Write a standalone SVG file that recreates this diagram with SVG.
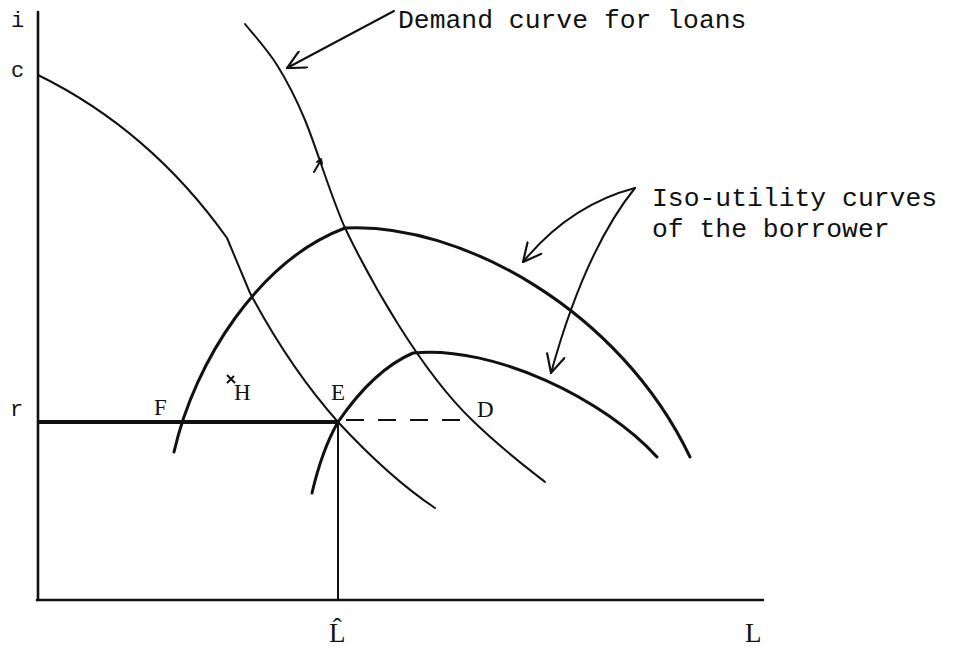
<svg xmlns="http://www.w3.org/2000/svg" width="954" height="648" viewBox="0 0 954 648">
<style>
.bg{fill:#fff}
.ax{stroke:#111;stroke-width:2.6;fill:none;stroke-linecap:round}
.cv{stroke:#111;stroke-width:2;fill:none;stroke-linecap:round;stroke-linejoin:round}
.thick{stroke:#111;stroke-width:3;fill:none;stroke-linecap:round;stroke-linejoin:round}
.conn{stroke:#111;stroke-width:2;fill:none;stroke-linecap:round}
.mono{font-family:"Liberation Mono","DejaVu Sans Mono",monospace;fill:#111}
.ser{font-family:"Liberation Serif","DejaVu Serif",serif;fill:#111}
</style>
<defs>
<marker id="vhl" viewBox="0 0 20 20" refX="19" refY="10" markerWidth="20" markerHeight="20" markerUnits="userSpaceOnUse" orient="auto">
<path d="M1,1 L19,10 L1,19" fill="none" stroke="#111" stroke-width="2.2" stroke-linecap="round"/>
</marker>
</defs>
<rect class="bg" width="954" height="648"/>

<g id="axes">
<line class="ax" x1="38" y1="12" x2="38" y2="600"/>
<line class="ax" x1="37" y1="600" x2="763" y2="600"/>
<text class="mono" x="11" y="27" font-size="22">i</text>
<text class="mono" x="11" y="77" font-size="22">c</text>
<text class="mono" x="10" y="416" font-size="22">r</text>
<text class="ser" x="329" y="642" font-size="27">L̂</text>
<text class="ser" x="745" y="642" font-size="27">L</text>
</g>

<g id="budget-curve">
<path class="cv" d="M38,75 Q150,130 227,238 L250,293 Q290,368 338,422 Q390,478 435,508"/>
</g>

<g id="demand-curve">
<path class="cv" d="M245,24 C250.3,30.8 267,49 277,65 C287,81 293.7,92.8 305,120 C316.3,147.2 330.3,194.7 345,228 C370,280 420,370 472,420 C505,452 530,470 545,482"/>
<path class="cv" d="M314,172 L321,160" stroke-width="1.5"/>
<path class="cv" d="M317,162 L321,159 L322,164" stroke-width="1.3"/>
</g>

<g id="iso-utility-upper">
<path class="thick" d="M174,452 C195,360 260,260 345,228 C460,222 620,310 690,457"/>
</g>

<g id="iso-utility-lower">
<path class="thick" d="M312,493 Q322,450 338,422 C360,390 385,365 413,353 C495,345 605,400 657,457"/>
</g>

<g id="r-line">
<line x1="38" y1="422" x2="338" y2="422" stroke="#111" stroke-width="4"/>
<line x1="346" y1="420" x2="472" y2="420" stroke="#111" stroke-width="2" stroke-dasharray="18,14"/>
<line x1="338" y1="422" x2="338" y2="600" stroke="#111" stroke-width="2"/>
</g>

<g id="points">
<text class="ser" x="154" y="415" font-size="23">F</text>
<path d="M227,375 L235,383 M227,383 L234,376" stroke="#111" stroke-width="2" fill="none"/>
<text class="ser" x="234" y="400" font-size="23">H</text>
<text class="ser" x="331" y="400" font-size="23">E</text>
<text class="ser" x="477" y="417" font-size="23">D</text>
</g>

<g id="labels">
<text class="mono" x="398" y="28" font-size="26.4">Demand curve for loans</text>
<text class="mono" x="652" y="206" font-size="26.4">Iso-utility curves</text>
<text class="mono" x="652" y="237" font-size="26.4">of the borrower</text>
</g>

<g id="connectors">
<path class="conn" d="M394,11 L287,68" marker-end="url(#vhl)"/>
<path class="conn" d="M635,188 Q570,205 523,262" marker-end="url(#vhl)"/>
<path class="conn" d="M635,188 Q585,250 551,373" marker-end="url(#vhl)"/>
</g>
</svg>
